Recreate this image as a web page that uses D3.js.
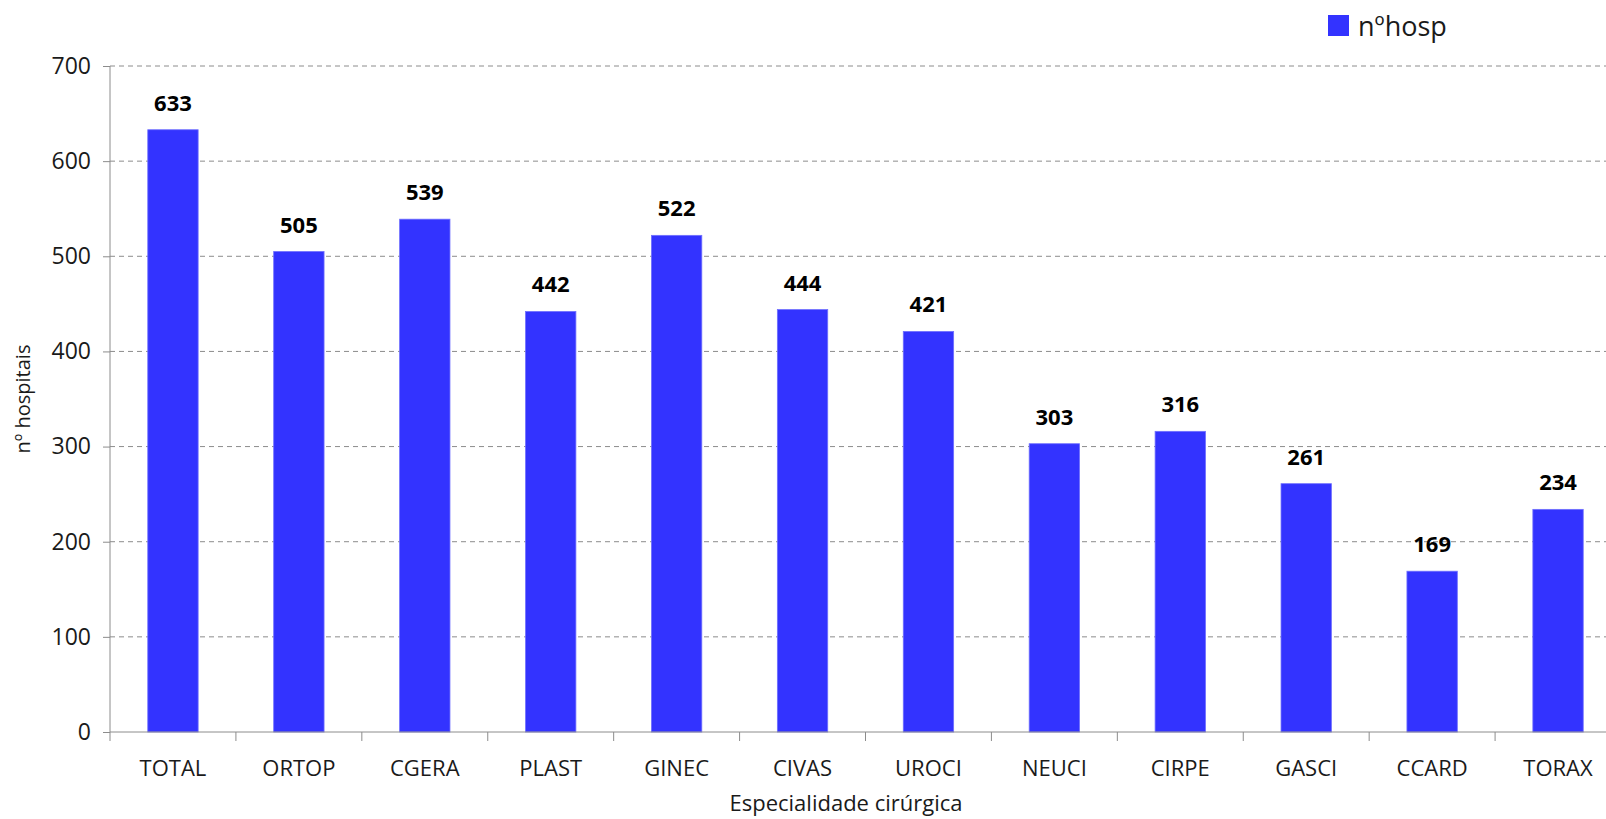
<!DOCTYPE html>
<html>
<head>
<meta charset="utf-8">
<script src="https://cdn.jsdelivr.net/npm/d3@7"></script>
<style>
  body { margin: 0; background: #fff; }
  #chart { width: 1606px; height: 819px; overflow: hidden; }
  text { font-family: "Open Sans", "Noto Sans", sans-serif; fill: #1a1a1a; }
</style>
</head>
<body>
<div id="chart"></div>
<script>
var categories = ["TOTAL", "ORTOP", "CGERA", "PLAST", "GINEC", "CIVAS", "UROCI", "NEUCI", "CIRPE", "GASCI", "CCARD", "TORAX"];
var nhosp = [633, 505, 539, 442, 522, 444, 421, 303, 316, 261, 169, 234];
var yTicks = [0, 100, 200, 300, 400, 500, 600, 700];

var width = 1606, height = 819;
// plot runs past the right edge in the original, so it gets clipped
var margin = {left: 110, top: 66, bottom: 87};
var plotW = 1511;
var plotH = height - margin.top - margin.bottom;

var svg = d3.select("#chart").append("svg")
    .attr("width", width)
    .attr("height", height);

var g = svg.append("g").attr("transform", "translate(" + margin.left + "," + margin.top + ")");

var x = d3.scaleBand().domain(categories).range([0, plotW]).paddingInner(0.6).paddingOuter(0.3);
var y = d3.scaleLinear().domain([0, 700]).range([plotH, 0]);

// gridlines
g.selectAll(".grid").data(yTicks.slice(1)).enter().append("line")
    .attr("x1", 0).attr("x2", plotW)
    .attr("y1", function(d) { return y(d); })
    .attr("y2", function(d) { return y(d); })
    .attr("stroke", "#8c8c8c")
    .attr("stroke-width", 1)
    .attr("stroke-dasharray", "5,4");

// bars
g.selectAll(".bar").data(nhosp).enter().append("rect")
    .attr("x", function(d, i) { return x(categories[i]); })
    .attr("y", function(d) { return y(d); })
    .attr("width", x.bandwidth())
    .attr("height", function(d) { return plotH - y(d); })
    .attr("fill", "#3333ff")
    .attr("stroke", "#6f6fff")
    .attr("stroke-width", 0.8);

// value labels
g.selectAll(".lbl").data(nhosp).enter().append("text")
    .attr("x", function(d, i) { return x(categories[i]) + x.bandwidth() / 2; })
    .attr("y", function(d) { return y(d) - 19; })
    .attr("text-anchor", "middle")
    .style("font-size", "22px")
    .style("font-weight", "bold")
    .style("fill", "#000")
    .text(function(d) { return d; });

// y axis
var yAxis = g.append("g")
    .call(d3.axisLeft(y).tickValues(yTicks).tickSize(7).tickPadding(12));
yAxis.select(".domain").attr("stroke", "#8c8c8c").attr("d", "M0," + plotH + "V0");
yAxis.selectAll(".tick line").attr("stroke", "#8c8c8c");
yAxis.selectAll(".tick text").style("font-size", "23px").attr("fill", "#1a1a1a");

// x axis: ticks sit between the categories
var xAxis = g.append("g").attr("transform", "translate(0," + plotH + ")");
xAxis.append("line").attr("x1", 0).attr("x2", plotW).attr("stroke", "#8c8c8c");
var step = x.step();
xAxis.selectAll(".xt").data(d3.range(categories.length + 1)).enter().append("line")
    .attr("x1", function(i) { return i * step; })
    .attr("x2", function(i) { return i * step; })
    .attr("y1", 0).attr("y2", 9)
    .attr("stroke", "#8c8c8c");
xAxis.selectAll(".xl").data(categories).enter().append("text")
    .attr("x", function(d) { return x(d) + x.bandwidth() / 2; })
    .attr("y", 44)
    .attr("text-anchor", "middle")
    .style("font-size", "22px")
    .text(function(d) { return d; });

// axis titles
svg.append("text")
    .attr("x", 846).attr("y", 811)
    .attr("text-anchor", "middle")
    .style("font-size", "22px")
    .text("Especialidade cirúrgica");

svg.append("text")
    .attr("transform", "translate(30," + (margin.top + plotH / 2) + ") rotate(-90)")
    .attr("text-anchor", "middle")
    .style("font-size", "20px")
    .text("nº hospitais");

// legend
svg.append("rect")
    .attr("x", 1328).attr("y", 15)
    .attr("width", 21).attr("height", 21)
    .attr("fill", "#3333ff");
svg.append("text")
    .attr("x", 1358).attr("y", 36)
    .style("font-size", "27px")
    .text("nºhosp");
</script>
</body>
</html>
